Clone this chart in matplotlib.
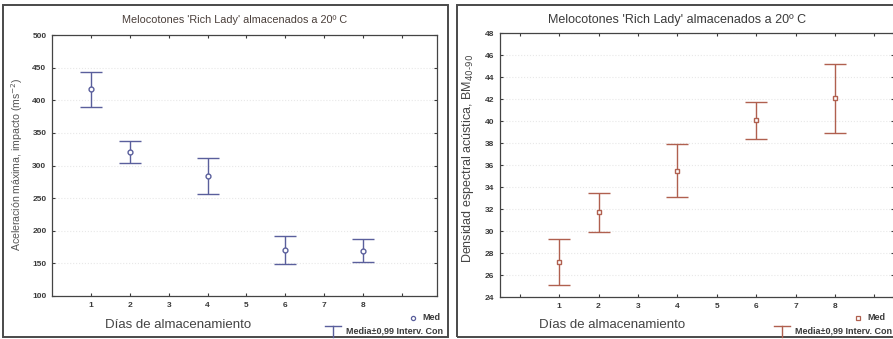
import matplotlib
matplotlib.use('Agg')
import matplotlib.pyplot as plt
from matplotlib.lines import Line2D
from matplotlib.patches import Rectangle
import numpy as np

plt.rcParams['font.family'] = ['Liberation Sans', 'DejaVu Sans']

# datos
dias = [1, 2, 4, 6, 8]
acel_media = [417, 321, 284, 170, 169]
acel_sup = [444, 338, 311, 192, 187]
acel_inf = [390, 304, 256, 149, 152]

bm_media = [27.2, 31.7, 35.5, 40.1, 42.1]
bm_sup = [29.3, 33.45, 37.9, 41.7, 45.2]
bm_inf = [25.1, 29.9, 33.1, 38.4, 38.9]

titulo = "Melocotones 'Rich Lady' almacenados a 20º C"
xlab = 'Días de almacenamiento'

W, H = 893, 339
fig = plt.figure(figsize=(W / 100, H / 100), dpi=100)
fig.patch.set_facecolor('white')


def caja(l, t, r, b):
    return [l / W, 1 - b / H, (r - l) / W, (b - t) / H]


def fx(x, y):
    return x / W, 1 - y / H


txt = '#3a3a3a'
c1 = '#5a5f9c'
c2 = '#b0604f'

ax1 = fig.add_axes(caja(52, 35, 437, 296))
ax2 = fig.add_axes(caja(500, 33, 894, 297))

for ax, media, sup, inf, col, mk, ylim, yt, xl, xt in [
        (ax1, acel_media, acel_sup, acel_inf, c1, 'o', (100, 500),
         np.arange(100, 501, 50), (0, 9.9), range(1, 10)),
        (ax2, bm_media, bm_sup, bm_inf, c2, 's', (24, 48),
         np.arange(24, 49, 2), (-0.5, 9.5), range(0, 10))]:
    media = np.array(media)
    err = [media - np.array(inf), np.array(sup) - media]
    ax.errorbar(dias, media, yerr=err, fmt=mk, color=col, mfc='white',
                mec=col, ms=3.5, mew=1.0, elinewidth=1.0, capsize=8,
                capthick=1.0, zorder=3)
    ax.set_ylim(*ylim)
    ax.set_yticks(yt)
    ax.set_xlim(*xl)
    ax.set_xticks(list(xt))
    ax.set_xticklabels([str(v) if 1 <= v <= 8 else '' for v in xt])
    ax.tick_params(direction='in', length=2.5, width=0.8, top=True,
                   right=True, labelsize=6, colors=txt, pad=4)
    for lab in ax.get_xticklabels() + ax.get_yticklabels():
        lab.set_fontweight('bold')
    ax.grid(axis='y', color='#e8e8e8', linestyle=':', linewidth=0.8)
    for s in ax.spines.values():
        s.set_color('#444444')
        s.set_linewidth(0.9)

# titulos y ejes
fig.text(*fx(235, 20), titulo, ha='center', va='center', fontsize=7.8, color='#4a3f3a')
fig.text(*fx(677, 20), titulo, ha='center', va='center', fontsize=9, color='#3a3a3a')
fig.text(*fx(17, 164), 'Aceleración máxima, impacto (ms$^{-2}$)', rotation=90,
         ha='center', va='center', fontsize=7.6, color='#555555')
fig.text(*fx(468, 158), 'Densidad espectral acústica, BM$_{40\u201090}$', rotation=90,
         ha='center', va='center', fontsize=9, color='#444444')
fig.text(*fx(178, 325), xlab, ha='center', va='center', fontsize=9.5, color='#444444')
fig.text(*fx(612, 325), xlab, ha='center', va='center', fontsize=9.5, color='#444444')

# leyendas (cortadas por el borde del panel)
for mx, gx, col, mk in [(413, 333, c1, 'o'), (858, 782, c2, 's')]:
    fig.lines.append(Line2D([mx / W], [1 - 318 / H], marker=mk, ms=3, mfc='white',
                            mec=col, mew=0.9, transform=fig.transFigure))
    fig.text(*fx(mx + 9, 318), 'Med', ha='left', va='center', fontsize=6.5,
             fontweight='bold', color=txt)
    y0, y1 = 1 - 326 / H, 1 - 337 / H
    fig.lines.append(Line2D([gx / W, gx / W], [y0, y1], color=col, lw=1.0,
                            transform=fig.transFigure))
    fig.lines.append(Line2D([(gx - 8) / W, (gx + 8) / W], [y0, y0], color=col, lw=1.0,
                            transform=fig.transFigure))
    fig.text(*fx(gx + 13, 331), 'Media±0,99 Interv. Con', ha='left', va='center',
             fontsize=6.5, fontweight='bold', color=txt)

# marcos de los paneles
fig.patches.append(Rectangle(fx(3, 337), 445 / W, 332 / H, fill=False,
                             ec='#4a4a4a', lw=1.4, transform=fig.transFigure))
fig.patches.append(Rectangle(fx(457, 337), 445 / W, 332 / H, fill=False,
                             ec='#4a4a4a', lw=1.4, transform=fig.transFigure))

fig.savefig('out.png', dpi=100, facecolor='white')
